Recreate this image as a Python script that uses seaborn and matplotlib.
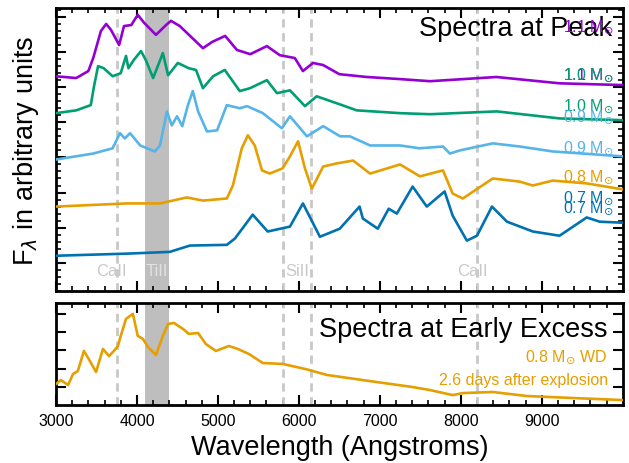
import numpy as np
import pandas as pd
import seaborn as sns
import matplotlib.pyplot as plt
from matplotlib.ticker import MultipleLocator

# Spectra at peak (wavelength in Angstroms, flux in arbitrary offset units)
wave_11 = [3000, 3250, 3400, 3460, 3555, 3620, 3680, 3780, 3840, 3930, 4010, 4090, 4235,
           4360, 4420, 4530, 4620, 4815, 4930, 5090, 5235, 5400, 5605, 5765, 5950, 6050,
           6175, 6300, 6500, 6840, 7250, 7620, 8440, 9220, 10000]
flux_11 = [5.31, 5.26, 5.46, 5.83, 6.60, 6.80, 6.63, 6.20, 6.74, 6.77, 7.06, 6.83, 6.49,
           6.77, 6.89, 6.74, 6.54, 6.11, 6.29, 6.46, 6.06, 5.94, 6.17, 5.91, 5.83, 5.46,
           5.69, 5.63, 5.37, 5.29, 5.23, 5.17, 5.29, 5.11, 5.06]

wave_10 = [3000, 3250, 3430, 3470, 3520, 3590, 3700, 3800, 3865, 3895, 3960, 4050, 4110,
           4200, 4320, 4385, 4505, 4640, 4730, 4815, 4940, 5085, 5270, 5395, 5605, 5730,
           5890, 6075, 6220, 6470, 6715, 7250, 7620, 8445, 9220, 10000]
flux_10 = [4.26, 4.34, 4.49, 5.03, 5.60, 5.54, 5.31, 5.40, 5.89, 5.54, 5.77, 6.03, 5.77,
           5.26, 5.97, 5.34, 5.69, 5.54, 5.49, 4.97, 5.31, 5.49, 4.89, 4.97, 5.20, 4.83,
           4.91, 4.46, 4.74, 4.54, 4.34, 4.26, 4.23, 4.31, 4.11, 4.06]

wave_09 = [3000, 3460, 3700, 3790, 3850, 3915, 4040, 4220, 4285, 4370, 4430, 4495, 4560,
           4630, 4690, 4755, 4865, 4990, 5110, 5270, 5360, 5555, 5790, 5890, 6100, 6300,
           6510, 6630, 6880, 7250, 7490, 7780, 7865, 7990, 8395, 8730, 9135, 10000]
flux_09 = [2.94, 3.11, 3.26, 3.69, 3.54, 3.69, 3.34, 3.17, 3.34, 4.31, 3.91, 4.17, 3.89,
           4.49, 4.89, 4.31, 3.74, 3.77, 4.49, 4.40, 4.46, 4.26, 3.83, 4.17, 3.60, 3.89,
           3.60, 3.60, 3.34, 3.34, 3.26, 3.31, 3.11, 3.20, 3.40, 3.31, 3.17, 3.03]

wave_08 = [3000, 3880, 4285, 4615, 4815, 5110, 5185, 5295, 5370, 5455, 5545, 5640, 5800,
           5890, 5990, 6075, 6160, 6300, 6470, 6670, 6880, 7250, 7495, 7780, 7900, 8025,
           8395, 8730, 8890, 9135, 9555, 10000]
flux_08 = [1.60, 1.69, 1.69, 1.86, 1.77, 1.83, 2.20, 3.26, 3.63, 3.34, 2.63, 2.54, 2.69,
           3.03, 3.46, 2.69, 2.11, 2.74, 2.83, 2.91, 2.54, 2.80, 2.46, 2.63, 1.97, 1.83,
           2.40, 2.31, 2.20, 2.34, 2.26, 2.09]

wave_07 = [3000, 3880, 4405, 4655, 5110, 5210, 5430, 5615, 5890, 6050, 6260, 6505, 6750,
           6790, 6975, 7110, 7210, 7405, 7580, 7800, 7900, 8075, 8200, 8385, 8570, 8890,
           9220, 9555, 9715, 10000]
flux_07 = [0.20, 0.26, 0.31, 0.49, 0.51, 0.69, 1.37, 0.89, 1.03, 1.69, 0.74, 0.97, 1.60,
           1.26, 0.97, 1.54, 1.40, 2.17, 1.60, 2.03, 1.34, 0.63, 0.77, 1.60, 1.17, 0.89,
           0.77, 1.29, 1.17, 1.14]

# Spectrum at early excess (0.8 Msun, 2.6 days)
wave_early = [3000, 3060, 3150, 3210, 3270, 3345, 3405, 3495, 3580, 3655, 3715, 3765, 3800,
              3865, 3950, 4010, 4075, 4135, 4235, 4320, 4385, 4455, 4570, 4640, 4755, 4850,
              4975, 5135, 5245, 5385, 5555, 5800, 6085, 6345, 6965, 7405, 7615, 7900, 8025,
              8395, 8815, 9385, 10000]
flux_early = [0.16, 0.38, 0.11, 0.71, 0.87, 1.97, 1.53, 0.82, 2.08, 1.69, 1.97, 2.24, 2.79,
              3.72, 3.99, 2.79, 2.62, 2.19, 1.75, 2.79, 3.44, 3.50, 3.17, 2.90, 2.95, 2.35,
              1.97, 2.24, 2.08, 1.80, 1.31, 1.26, 0.98, 0.66, 0.27, 0.00, -0.16, -0.44, -0.33,
              -0.27, -0.49, -0.60, -0.71]

masses = ["1.1", "1.0", "0.9", "0.8", "0.7"]
colors = ["#9400d3", "#009e73", "#56b4e9", "#e69f00", "#0072b2"]
line_waves = [3750, 5800, 6150, 8200]
line_names = ["CaII", "TiII", "SiII", "CaII"]
line_name_x = [3680, 4250, 5975, 8140]

peak = pd.concat([
    pd.DataFrame({"wave": w, "flux": f, "mass": m})
    for w, f, m in zip([wave_11, wave_10, wave_09, wave_08, wave_07],
                       [flux_11, flux_10, flux_09, flux_08, flux_07], masses)
])
early = pd.DataFrame({"wave": wave_early, "flux": flux_early})

sns.set_theme(style="ticks")
plt.rcParams["font.family"] = ["Liberation Sans", "DejaVu Sans"]
plt.rcParams["mathtext.fontset"] = "dejavusans"
for key in ["text.color", "axes.labelcolor", "axes.edgecolor", "xtick.color", "ytick.color"]:
    plt.rcParams[key] = "black"

fig = plt.figure(figsize=(6.29, 4.64), dpi=100)
ax1 = fig.add_axes([0.089, 0.371, 0.901, 0.610])
ax2 = fig.add_axes([0.089, 0.125, 0.901, 0.220])

for ax in (ax1, ax2):
    ax.axvspan(4100, 4400, color="#bebebe", lw=0, zorder=0)
    for lw_ in line_waves:
        ax.axvline(lw_, color="#c8c8c8", lw=2, dashes=(3, 2), zorder=1)

sns.lineplot(data=peak, x="wave", y="flux", hue="mass", palette=dict(zip(masses, colors)),
             sort=False, estimator=None, legend=False, lw=1.9, ax=ax1, zorder=3)
sns.lineplot(data=early, x="wave", y="flux", color=colors[3], sort=False,
             estimator=None, lw=1.9, ax=ax2, zorder=3)

ax1.set_xlim(3000, 10000)
ax1.set_ylim(-0.8, 7.26)
ax2.set_xlim(3000, 10000)
ax2.set_ylim(-0.98, 4.59)

for ax in (ax1, ax2):
    ax.set_xticks(range(3000, 10000, 1000))
    ax.xaxis.set_minor_locator(MultipleLocator(200))
    ax.yaxis.set_major_locator(MultipleLocator(1))
    ax.tick_params(which="both", direction="in", top=True, right=True, labelleft=False)
    ax.tick_params(which="major", length=7, width=1.5)
    ax.tick_params(which="minor", length=3.5, width=1.2)
    for s in ax.spines.values():
        s.set_linewidth(2)
    ax.set_xlabel("")
    ax.set_ylabel("")
ax1.yaxis.set_minor_locator(MultipleLocator(0.2))
ax1.tick_params(labelbottom=False)
ax2.tick_params(axis="x", labelsize=11.5, pad=6)

ax1.text(0.981, 0.93, "Spectra at Peak", transform=ax1.transAxes, ha="right", va="center",
         fontsize=19.5)
ax2.text(0.974, 0.745, "Spectra at Early Excess", transform=ax2.transAxes, ha="right",
         va="center", fontsize=19.5)

# mass labels, drawn in the same overlapping way as the original
label_masses = ["1.1", "1.1", "1.0", "1.0", "0.9", "0.9", "0.8", "0.7", "0.7"]
label_colors = [colors[0], colors[0], colors[1], colors[1], colors[2], colors[2], colors[3],
                colors[4], colors[4]]
label_y = [6.74, 5.37, 5.37, 4.49, 4.17, 3.31, 2.46, 1.86, 1.60]
for m, c, y in zip(label_masses, label_colors, label_y):
    ax1.text(9880, y, m + r" M$_{\odot}$", color=c, ha="right", va="center", fontsize=11.5,
             zorder=5)

for name, x in zip(line_names, line_name_x):
    ax1.text(x, -0.23, name, color="#e2e2e2" if name == "TiII" else "#c8c8c8",
             ha="center", va="center", fontsize=12)

ax2.text(0.972, 0.48, r"0.8 M$_{\odot}$ WD", transform=ax2.transAxes, color=colors[3],
         ha="right", va="center", fontsize=11.5)
ax2.text(0.975, 0.245, "2.6 days after explosion", transform=ax2.transAxes, color=colors[3],
         ha="right", va="center", fontsize=11.5)

ax2.set_xlabel("Wavelength (Angstroms)", fontsize=19.5, labelpad=4)
ax1.set_ylabel(r"F$_\lambda$ in arbitrary units", fontsize=19.5)
ax1.yaxis.set_label_coords(-0.026, 0.5)

fig.savefig("out.png", dpi=100)
